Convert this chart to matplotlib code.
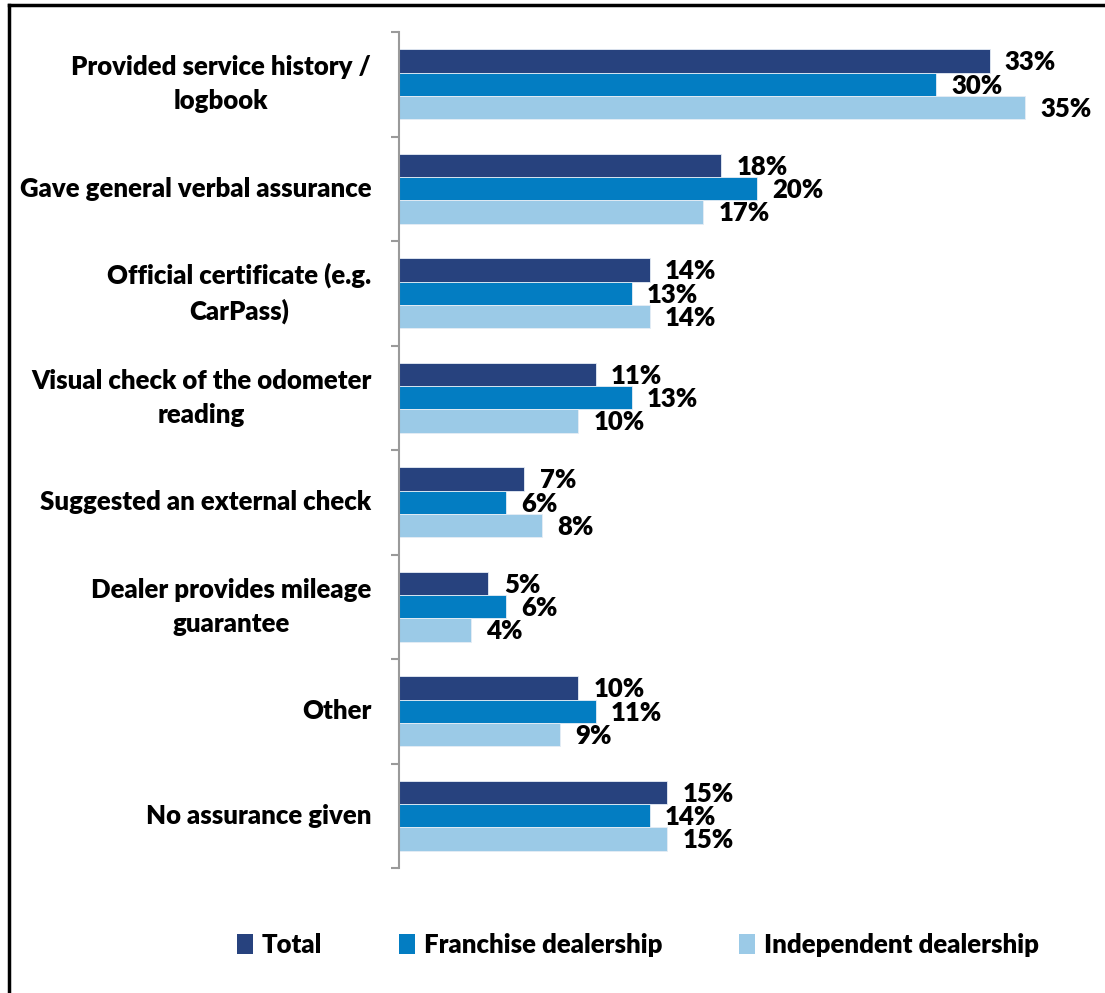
import matplotlib
matplotlib.use("Agg")
import matplotlib.pyplot as plt
from matplotlib.lines import Line2D
from matplotlib.patches import Patch
import numpy as np

categories = [
    "Provided service history /\nlogbook",
    "Gave general verbal assurance",
    "Official certificate (e.g.\nCarPass)",
    "Visual check of the odometer\nreading",
    "Suggested an external check",
    "Dealer provides mileage\nguarantee",
    "Other",
    "No assurance given",
]
series_names = ["Total", "Franchise dealership", "Independent dealership"]
total = [33, 18, 14, 11, 7, 5, 10, 15]
franchise = [30, 20, 13, 13, 6, 6, 11, 14]
independent = [35, 17, 14, 10, 8, 4, 9, 15]
colors = ["#27427E", "#037DC2", "#9BCAE7"]

FONT = "Lato"
FS = 18.5
WEIGHT = "heavy"

fig = plt.figure(figsize=(11.05, 9.93), dpi=100)
ax = fig.add_axes([399 / 1105, 1 - 868 / 993, 680 / 1105, (868 - 32) / 993])

y = np.arange(len(categories))
h = 0.223
for i, (vals, col, name) in enumerate(zip([total, franchise, independent], colors, series_names)):
    pos = y + (i - 1) * h
    ax.barh(pos, vals, height=h, color=col, edgecolor="#e6edf5", linewidth=0.6, label=name)
    for p, v in zip(pos, vals):
        ax.annotate(f"{v}%", (v, p), xytext=(11, -1), textcoords="offset points",
                    ha="left", va="center", fontsize=FS, fontweight=WEIGHT,
                    family=FONT, color="black", annotation_clip=False)

ax.set_xlim(0, 38)
ax.set_ylim(len(categories) - 0.5, -0.5)

for s in ["top", "right", "bottom"]:
    ax.spines[s].set_visible(False)
ax.spines["left"].set_color("#9a9a9a")
ax.spines["left"].set_linewidth(1.5)
ax.set_xticks([])
ax.set_yticks(np.arange(-0.5, len(categories), 1.0))
ax.set_yticklabels([])
ax.tick_params(axis="y", direction="out", length=6, width=1.5, color="#9a9a9a")

for yi, cat in zip(y, categories):
    ax.annotate(cat, (0, yi), xytext=(-20, 0), textcoords="offset points",
                ha="right", va="center", multialignment="center",
                fontsize=FS, fontweight=WEIGHT, family=FONT, color="black",
                linespacing=1.5, annotation_clip=False)

handles = [Patch(facecolor=c, edgecolor="none") for c in colors]
leg = fig.legend(handles, series_names, loc="center", bbox_to_anchor=(638 / 1105, 1 - 945 / 993),
                 ncol=3, frameon=False, handlelength=0.6, handleheight=0.8,
                 handletextpad=0.35, columnspacing=3.0,
                 prop={"family": FONT, "weight": WEIGHT, "size": FS})

# outer frame (left and top edges)
fig.add_artist(Line2D([9 / 1105, 9 / 1105], [0, 1 - 5 / 993], color="black", lw=2.5,
                      transform=fig.transFigure))
fig.add_artist(Line2D([9 / 1105, 1], [1 - 5 / 993, 1 - 5 / 993], color="black", lw=2.5,
                      transform=fig.transFigure))

fig.savefig("out.png", dpi=100, facecolor="white")
